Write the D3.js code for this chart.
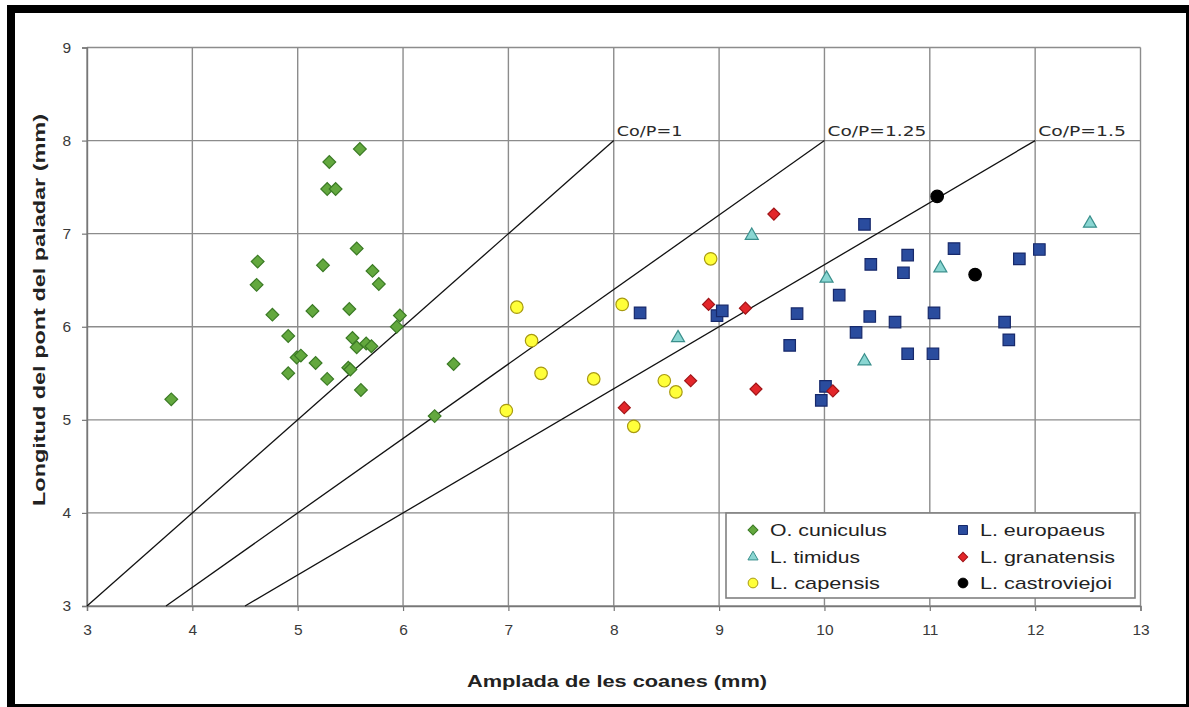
<!DOCTYPE html>
<html>
<head>
<meta charset="utf-8">
<script src="https://cdnjs.cloudflare.com/ajax/libs/d3/7.8.5/d3.min.js"></script>
<style>
  html, body { margin: 0; padding: 0; background: #ffffff; }
  svg { display: block; }
</style>
</head>
<body>
<svg id="chart" width="1189" height="707"></svg>
<script>
// Palatal bridge length vs. choanae width, per species (mm)
const cuniculus = [
  [5.59, 7.91], [5.30, 7.77], [5.28, 7.48], [5.36, 7.48], [5.56, 6.84],
  [4.62, 6.70], [5.24, 6.66], [5.71, 6.60], [4.61, 6.45], [5.77, 6.46],
  [4.76, 6.13], [5.14, 6.17], [5.49, 6.19], [5.97, 6.12], [5.94, 6.00],
  [4.91, 5.90], [5.52, 5.88], [5.56, 5.78], [5.65, 5.82], [5.70, 5.79],
  [4.99, 5.67], [5.03, 5.69], [5.17, 5.61], [4.91, 5.50], [5.48, 5.56],
  [5.50, 5.54], [5.28, 5.44], [5.60, 5.32], [3.80, 5.22], [6.48, 5.60],
  [6.30, 5.04]
];
const europaeus = [
  [8.25, 6.15], [8.98, 6.12], [9.03, 6.17], [9.74, 6.14], [9.67, 5.80],
  [10.38, 7.10], [10.44, 6.67], [10.14, 6.34], [10.43, 6.11], [10.30, 5.94],
  [10.67, 6.05], [10.79, 6.77], [10.75, 6.58], [10.79, 5.71], [10.01, 5.36],
  [9.97, 5.21], [11.23, 6.84], [11.85, 6.73], [12.04, 6.83], [11.04, 6.15],
  [11.71, 6.05], [11.75, 5.86], [11.03, 5.71]
];
const timidus = [
  [9.31, 6.98], [8.61, 5.88], [10.02, 6.52], [10.38, 5.63], [11.10, 6.63],
  [12.52, 7.11]
];
const granatensis = [
  [9.52, 7.21], [8.90, 6.24], [9.25, 6.20], [8.73, 5.42], [8.10, 5.13],
  [9.35, 5.33], [10.08, 5.31]
];
const capensis = [
  [7.08, 6.21], [8.08, 6.24], [7.22, 5.85], [7.31, 5.50], [7.81, 5.44],
  [6.98, 5.10], [8.48, 5.42], [8.59, 5.30], [8.19, 4.93], [8.92, 6.73]
];
const castroviejoi = [
  [11.07, 7.40], [11.43, 6.56]
];

// Reference lines Co/P = ratio
const ratios = [1, 1.25, 1.5];
const lineYRange = [3, 8];

const xTicks = [3, 4, 5, 6, 7, 8, 9, 10, 11, 12, 13];
const yTicks = [3, 4, 5, 6, 7, 8, 9];

const xTitle = "Amplada de les coanes (mm)";
const yTitle = "Longitud del pont del paladar (mm)";

const svg = d3.select("#chart");
const W = 1189, H = 707;

// Black frame
svg.append("rect").attr("x", 7).attr("y", 5).attr("width", W - 7).attr("height", H - 5).attr("fill", "#000");
svg.append("rect").attr("x", 15).attr("y", 13).attr("width", 1171).attr("height", 691).attr("fill", "#fff");

const plot = { left: 87, right: 1140.5, top: 47.5, bottom: 606 };
const x = d3.scaleLinear().domain([3, 13]).range([plot.left, plot.right]);
const y = d3.scaleLinear().domain([3, 9]).range([plot.bottom, plot.top]);

// Grid
const grid = svg.append("g").attr("stroke", "#8c8c8c").attr("stroke-width", 1.4);
grid.selectAll("line.v").data(xTicks).join("line")
  .attr("x1", d => x(d)).attr("x2", d => x(d))
  .attr("y1", plot.top).attr("y2", plot.bottom);
grid.selectAll("line.h").data(yTicks).join("line")
  .attr("y1", d => y(d)).attr("y2", d => y(d))
  .attr("x1", plot.left).attr("x2", plot.right);

// Axes
const xAxis = svg.append("g").attr("transform", `translate(0,${plot.bottom})`)
  .call(d3.axisBottom(x).tickValues(xTicks).tickSize(5).tickPadding(13).tickFormat(d3.format("d")));
const yAxis = svg.append("g").attr("transform", `translate(${plot.left},0)`)
  .call(d3.axisLeft(y).tickValues(yTicks).tickSize(5).tickPadding(11).tickFormat(d3.format("d")));
[xAxis, yAxis].forEach(a => {
  a.select(".domain").attr("stroke", "#777").attr("stroke-width", 1.4);
  a.selectAll(".tick line").attr("stroke", "#777").attr("stroke-width", 1.2);
  a.selectAll(".tick text").attr("fill", "#3a3a3a")
    .style("font-family", "'Liberation Sans', Arial, sans-serif").style("font-size", "15.5px");
});

// Co/P lines
const refs = svg.append("g");
ratios.forEach(r => {
  refs.append("line")
    .attr("x1", x(r * lineYRange[0])).attr("y1", y(lineYRange[0]))
    .attr("x2", x(r * lineYRange[1])).attr("y2", y(lineYRange[1]))
    .attr("stroke", "#111").attr("stroke-width", 1.3);
  const label = "Co/P=" + r;
  refs.append("text")
    .attr("x", x(r * lineYRange[1]) + 3).attr("y", y(lineYRange[1]) - 5)
    .attr("textLength", label.length * 11.1 - 1).attr("lengthAdjust", "spacingAndGlyphs")
    .style("font-family", "'DejaVu Sans', Verdana, sans-serif").style("font-size", "13.5px")
    .attr("fill", "#2a2a2a").text(label);
});

// Marker styles
const sym = {
  diamond: (s) => d3.symbol(d3.symbolSquare, s * s)(),
  square: (s) => d3.symbol(d3.symbolSquare, s * s)(),
  triangle: (s) => d3.symbol(d3.symbolTriangle, s * s * Math.sqrt(3) / 4)(),
  circle: (s) => d3.symbol(d3.symbolCircle, Math.PI * s * s / 4)()
};
const series = [
  { name: "O. cuniculus", data: cuniculus, shape: "diamond", size: 9, fill: "#63a83e", stroke: "#3b7a25", rot: 45 },
  { name: "L. europaeus", data: europaeus, shape: "square", size: 11.5, fill: "#2a4c9e", stroke: "#17296b", rot: 0 },
  { name: "L. timidus", data: timidus, shape: "triangle", size: 13, fill: "#8ad6d2", stroke: "#3a8f8c", rot: 0 },
  { name: "L. granatensis", data: granatensis, shape: "diamond", size: 8.5, fill: "#e3262a", stroke: "#a01518", rot: 45 },
  { name: "L. capensis", data: capensis, shape: "circle", size: 12.5, fill: "#ffff3a", stroke: "#a89a10", rot: 0 },
  { name: "L. castroviejoi", data: castroviejoi, shape: "circle", size: 12.5, fill: "#000", stroke: "#000", rot: 0 }
];

const drawOrder = ["O. cuniculus", "L. capensis", "L. timidus", "L. europaeus", "L. granatensis", "L. castroviejoi"];
drawOrder.forEach(n => {
  const s = series.find(e => e.name === n);
  svg.append("g").selectAll("path").data(s.data).join("path")
    .attr("d", sym[s.shape](s.size))
    .attr("transform", d => `translate(${x(d[0])},${y(d[1])}) rotate(${s.rot})`)
    .attr("fill", s.fill).attr("stroke", s.stroke).attr("stroke-width", 1.2);
});

// Legend
const legend = svg.append("g");
legend.append("rect").attr("x", 726).attr("y", 513).attr("width", 409).attr("height", 85)
  .attr("fill", "#fff").attr("stroke", "#808080").attr("stroke-width", 1.6);
const legendItems = [
  { name: "O. cuniculus", col: 0, row: 0, w: 117 },
  { name: "L. europaeus", col: 1, row: 0, w: 125 },
  { name: "L. timidus", col: 0, row: 1, w: 90 },
  { name: "L. granatensis", col: 1, row: 1, w: 135 },
  { name: "L. capensis", col: 0, row: 2, w: 110 },
  { name: "L. castroviejoi", col: 1, row: 2, w: 132 }
];
const colX = [753, 963];
const rowY = [530, 557, 583];
legendItems.forEach(it => {
  const s = series.find(e => e.name === it.name);
  const cx = colX[it.col], cy = rowY[it.row];
  legend.append("path")
    .attr("d", sym[s.shape](s.size * 0.78))
    .attr("transform", `translate(${cx},${cy}) rotate(${s.rot})`)
    .attr("fill", s.fill).attr("stroke", s.stroke).attr("stroke-width", 1);
  legend.append("text")
    .attr("x", cx + 17).attr("y", cy + 6)
    .attr("textLength", it.w).attr("lengthAdjust", "spacingAndGlyphs")
    .style("font-family", "'Liberation Sans', Arial, sans-serif").style("font-size", "17px")
    .attr("fill", "#222").text(it.name);
});

// Axis titles
svg.append("text")
  .attr("x", 617).attr("y", 687).attr("text-anchor", "middle")
  .attr("textLength", 300).attr("lengthAdjust", "spacingAndGlyphs")
  .style("font-family", "'Liberation Sans', Arial, sans-serif").style("font-size", "17px").style("font-weight", "bold")
  .attr("fill", "#222").text(xTitle);
svg.append("text")
  .attr("transform", "translate(45,310) rotate(-90)").attr("text-anchor", "middle")
  .attr("textLength", 392).attr("lengthAdjust", "spacingAndGlyphs")
  .style("font-family", "'Liberation Sans', Arial, sans-serif").style("font-size", "17px").style("font-weight", "bold")
  .attr("fill", "#222").text(yTitle);
</script>
</body>
</html>
